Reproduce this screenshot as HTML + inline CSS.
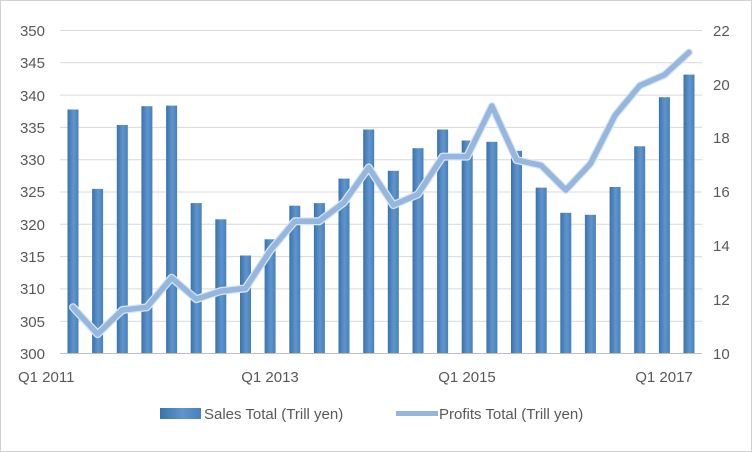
<!DOCTYPE html>
<html><head><meta charset="utf-8"><style>
html,body{margin:0;padding:0;background:#fff;}
svg{display:block;font-family:"Liberation Sans",sans-serif;}
</style></head><body>
<svg width="752" height="452" viewBox="0 0 752 452" xmlns="http://www.w3.org/2000/svg">
<defs>
<linearGradient id="g" x1="0" x2="1" y1="0" y2="0">
<stop offset="0" stop-color="#3a72ae"/><stop offset="0.55" stop-color="#5f95cd"/><stop offset="1" stop-color="#4680bd"/>
</linearGradient>
</defs>
<rect x="0.5" y="0.5" width="751" height="451" fill="#fff" stroke="#d0d0d0"/>
<g stroke="#d9d9d9" stroke-width="1">
<line x1="60" x2="702" y1="30.5" y2="30.5"/><line x1="60" x2="702" y1="62.8" y2="62.8"/>
<line x1="60" x2="702" y1="95.1" y2="95.1"/><line x1="60" x2="702" y1="127.4" y2="127.4"/>
<line x1="60" x2="702" y1="159.7" y2="159.7"/><line x1="60" x2="702" y1="192" y2="192"/>
<line x1="60" x2="702" y1="224.3" y2="224.3"/><line x1="60" x2="702" y1="256.6" y2="256.6"/>
<line x1="60" x2="702" y1="288.9" y2="288.9"/><line x1="60" x2="702" y1="321.2" y2="321.2"/>
</g>
<line x1="60" x2="702" y1="353.5" y2="353.5" stroke="#bfbfbf"/>
<g font-size="15" fill="#595959" text-anchor="end">
<text x="45" y="36">350</text><text x="45" y="68">345</text><text x="45" y="101">340</text>
<text x="45" y="133">335</text><text x="45" y="165">330</text><text x="45" y="197">325</text>
<text x="45" y="230">320</text><text x="45" y="262">315</text><text x="45" y="294">310</text>
<text x="45" y="327">305</text><text x="45" y="359">300</text>
</g>
<g font-size="15" fill="#595959" text-anchor="start">
<text x="713" y="36">22</text><text x="713" y="90">20</text><text x="713" y="143">18</text>
<text x="713" y="197">16</text><text x="713" y="251">14</text><text x="713" y="305">12</text>
<text x="713" y="359">10</text>
</g>
<g font-size="15" fill="#595959">
<text x="18" y="382">Q1 2011</text>
<text x="270" y="382" text-anchor="middle">Q1 2013</text>
<text x="467" y="382" text-anchor="middle">Q1 2015</text>
<text x="664" y="382" text-anchor="middle">Q1 2017</text>
</g>
<g fill="url(#g)">
<rect x="67.5" y="109.5" width="11" height="243.5"/>
<rect x="92.1" y="188.9" width="11" height="164.1"/>
<rect x="116.8" y="125" width="11" height="228"/>
<rect x="141.4" y="106.2" width="11" height="246.8"/>
<rect x="166.1" y="105.6" width="11" height="247.4"/>
<rect x="190.7" y="203.1" width="11" height="149.9"/>
<rect x="215.3" y="219.3" width="11" height="133.7"/>
<rect x="240" y="255.5" width="11" height="97.5"/>
<rect x="264.6" y="239.3" width="11" height="113.7"/>
<rect x="289.3" y="205.7" width="11" height="147.3"/>
<rect x="313.9" y="203.1" width="11" height="149.9"/>
<rect x="338.5" y="178.6" width="11" height="174.4"/>
<rect x="363.2" y="129.5" width="11" height="223.5"/>
<rect x="387.8" y="170.8" width="11" height="182.2"/>
<rect x="412.5" y="148.2" width="11" height="204.8"/>
<rect x="437.1" y="129.5" width="11" height="223.5"/>
<rect x="461.7" y="140.5" width="11" height="212.5"/>
<rect x="486.4" y="141.8" width="11" height="211.2"/>
<rect x="511" y="150.8" width="11" height="202.2"/>
<rect x="535.7" y="187.6" width="11" height="165.4"/>
<rect x="560.3" y="212.8" width="11" height="140.2"/>
<rect x="584.9" y="214.8" width="11" height="138.2"/>
<rect x="609.6" y="187" width="11" height="166"/>
<rect x="634.2" y="146.3" width="11" height="206.7"/>
<rect x="658.9" y="97.2" width="11" height="255.8"/>
<rect x="683.5" y="74.6" width="11" height="278.4"/>
</g>
<g fill="none" stroke-linejoin="round" stroke-linecap="round">
<polyline stroke="#dbe6f3" stroke-width="8"
points="73,307.3 97.6,334.2 122.3,310 146.9,307.3 171.6,277.7 196.2,299.2 220.8,291.1 245.5,288.4 270.1,250.8 294.8,221.2 319.4,221.2 344,202.4 368.7,167.4 393.3,205.1 418,194.3 442.6,156.6 467.2,156.6 491.9,106 516.5,160 541.2,165.4 565.8,190 590.4,163.7 615.1,115.3 639.7,85.7 664.4,74.9 689,52.4"/>
<polyline stroke="#95b6df" stroke-width="5.5"
points="73,307.3 97.6,334.2 122.3,310 146.9,307.3 171.6,277.7 196.2,299.2 220.8,291.1 245.5,288.4 270.1,250.8 294.8,221.2 319.4,221.2 344,202.4 368.7,167.4 393.3,205.1 418,194.3 442.6,156.6 467.2,156.6 491.9,106 516.5,160 541.2,165.4 565.8,190 590.4,163.7 615.1,115.3 639.7,85.7 664.4,74.9 689,52.4"/>
</g>
<rect x="160" y="408" width="41" height="11" fill="url(#g)"/>
<text x="204" y="419" font-size="15" fill="#595959">Sales Total (Trill yen)</text>
<line x1="396" x2="438" y1="413.5" y2="413.5" stroke="#95b6df" stroke-width="5"/>
<text x="439" y="419" font-size="15" fill="#595959">Profits Total (Trill yen)</text>
</svg>
</body></html>
